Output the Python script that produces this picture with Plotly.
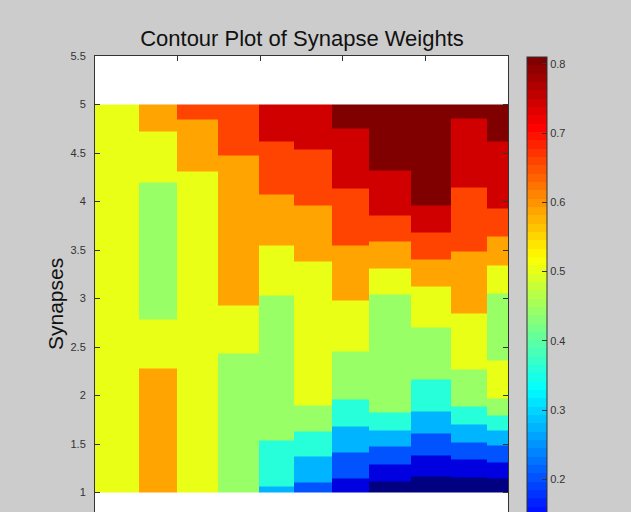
import plotly.graph_objects as go

# ---- data ----
TITLE = "Contour Plot of Synapse Weights"
Y_LABEL = "Synapses"

# column edges along the (unlabelled) x axis
X_EDGES = [0, 5.3, 9.9, 14.9, 19.9, 24.1, 28.7, 33.2, 38.2, 43.1, 47.5, 50]

# filled-contour level values (weights)
LEVELS = [0.046, 0.123, 0.200, 0.277, 0.354, 0.44, 0.508, 0.585, 0.662, 0.739, 0.81]

# per column: y breakpoints from top (5) to bottom (1) and level index of each band
COL_BREAKS = [
    [5, 1],
    [5, 4.72, 4.20, 2.78, 2.28, 1],
    [5, 4.85, 4.31, 1],
    [5, 4.47, 2.93, 2.43, 1],
    [5, 4.62, 4.07, 3.55, 3.03, 1.54, 1.06, 1],
    [5, 4.54, 3.96, 3.38, 1.90, 1.63, 1.37, 1.10, 1],
    [5, 4.75, 4.13, 3.55, 2.98, 2.45, 1.96, 1.68, 1.41, 1.14, 1],
    [5, 4.32, 3.86, 3.59, 3.31, 3.04, 1.82, 1.64, 1.47, 1.29, 1.11, 1],
    [5, 3.96, 3.68, 3.40, 3.12, 2.70, 2.16, 1.83, 1.61, 1.38, 1.16, 1],
    [5, 4.86, 4.14, 3.48, 2.85, 2.27, 1.89, 1.70, 1.52, 1.34, 1.15, 1],
    [5, 4.62, 3.93, 3.64, 3.34, 3.05, 2.36, 1.97, 1.79, 1.64, 1.48, 1.31, 1.14, 1],
]
COL_LEVELS = [
    [6],
    [7, 6, 5, 6, 7],
    [8, 7, 6],
    [8, 7, 6, 5],
    [9, 8, 7, 6, 5, 4, 3],
    [9, 8, 7, 6, 5, 4, 3, 2],
    [10, 9, 8, 7, 6, 5, 4, 3, 2, 1],
    [10, 9, 8, 7, 6, 5, 4, 3, 2, 1, 0],
    [10, 9, 8, 7, 6, 5, 4, 3, 2, 1, 0],
    [10, 9, 8, 7, 6, 5, 4, 3, 2, 1, 0],
    [10, 9, 8, 7, 6, 5, 6, 5, 4, 3, 2, 1, 0],
]

Y_TICKS = [1, 1.5, 2, 2.5, 3, 3.5, 4, 4.5, 5, 5.5]
Y_TICK_TEXT = ["1", "1.5", "2", "2.5", "3", "3.5", "4", "4.5", "5", "5.5"]
CB_TICKS = [0.2, 0.3, 0.4, 0.5, 0.6, 0.7, 0.8]
Z_MIN, Z_MAX = 0.04, 0.81

# ---- build grid ----
y_edges = sorted(set(v for col in COL_BREAKS for v in col))
z = []
for i in range(len(y_edges) - 1):
    mid = 0.5 * (y_edges[i] + y_edges[i + 1])
    row = []
    for brk, lev in zip(COL_BREAKS, COL_LEVELS):
        val = None
        for k in range(len(lev)):
            if brk[k] >= mid >= brk[k + 1]:
                val = LEVELS[lev[k]]
                break
        row.append(val)
    z.append(row)


def jet(t):
    cl = lambda v: max(0.0, min(1.0, v))
    r = cl(min(4 * t - 1.5, -4 * t + 4.5))
    g = cl(min(4 * t - 0.5, -4 * t + 3.5))
    b = cl(min(4 * t + 0.5, -4 * t + 2.5))
    return "rgb(%d,%d,%d)" % (round(r * 255), round(g * 255), round(b * 255))


N = 64
colorscale = []
for i in range(N):
    c = jet(i / (N - 1))
    colorscale.append([i / N, c])
    colorscale.append([(i + 1) / N, c])

FONT = "Liberation Sans, Arial, sans-serif"

fig = go.Figure()
fig.add_trace(go.Heatmap(
    x=X_EDGES, y=y_edges, z=z,
    zmin=Z_MIN, zmax=Z_MAX,
    colorscale=colorscale,
    hoverongaps=False,
    colorbar=dict(
        thickness=20, thicknessmode="pixels",
        lenmode="pixels", len=533,
        x=(527 - 95) / 413, xanchor="left", xpad=0,
        y=(512 - 57) / 456, yanchor="top", ypad=0,
        outlinewidth=1, outlinecolor="#333",
        tickvals=CB_TICKS, ticktext=[str(v) for v in CB_TICKS],
        ticks="inside", ticklen=5, tickcolor="#333",
        tickfont=dict(family=FONT, size=11, color="#333"),
    ),
))

fig.update_layout(
    width=631, height=512,
    margin=dict(l=95, r=123, t=56, b=0),
    paper_bgcolor="#cccccc",
    plot_bgcolor="white",
    showlegend=False,
    title=dict(text=TITLE, x=(302) / 631, xanchor="center",
               y=1 - 38 / 512, yanchor="middle",
               font=dict(family=FONT, size=22, color="#111")),
    xaxis=dict(range=[0, 50], side="top", showline=True, linecolor="#333",
               linewidth=1, ticks="inside", ticklen=5, tickcolor="#333",
               tickvals=[10, 20, 30, 40], showticklabels=False,
               showgrid=False, zeroline=False, mirror=False),
    yaxis=dict(range=[5.5 - 456 / 97, 5.5], showline=True, linecolor="#333",
               linewidth=1, mirror="ticks", ticks="inside", ticklen=5,
               tickcolor="#333", tickvals=Y_TICKS, ticktext=Y_TICK_TEXT,
               tickfont=dict(family=FONT, size=11, color="#333"),
               ticklabelstandoff=6,
               showgrid=False, zeroline=False),
    annotations=[dict(text=Y_LABEL, textangle=-90, xref="paper", yref="paper",
                      x=(55 - 95) / 413, y=(512 - 304) / 456,
                      xanchor="center", yanchor="middle", showarrow=False,
                      font=dict(family=FONT, size=21, color="#111"))],
)

fig.write_html("out.html")
